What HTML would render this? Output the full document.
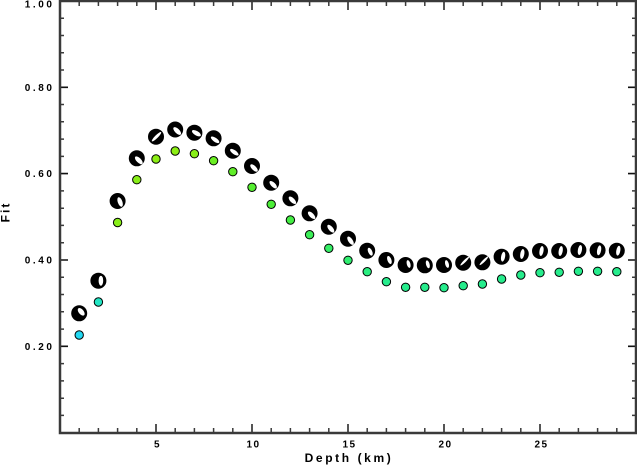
<!DOCTYPE html>
<html><head><meta charset="utf-8"><style>
html,body{margin:0;padding:0;background:#fff;}
svg{display:block;}
text{font-family:"Liberation Sans",Arial,sans-serif;font-weight:bold;fill:#000;}
</style></head><body>
<svg width="637" height="468" viewBox="0 0 637 468" xmlns="http://www.w3.org/2000/svg">
<rect x="0" y="0" width="637" height="468" fill="#fff"/>
<!-- minor ticks -->
<path stroke="#3a3a3a" stroke-width="1.5" fill="none" d="
M60 415.4h4M60 398.2h4M60 380.9h4M60 363.6h4M60 329.1h4M60 311.8h4M60 294.5h4M60 277.3h4M60 242.7h4M60 225.4h4M60 208.2h4M60 190.9h4M60 156.4h4M60 139.1h4M60 121.8h4M60 104.5h4M60 70h4M60 52.7h4M60 35.5h4M60 18.2h4
M636 415.4h-4M636 398.2h-4M636 380.9h-4M636 363.6h-4M636 329.1h-4M636 311.8h-4M636 294.5h-4M636 277.3h-4M636 242.7h-4M636 225.4h-4M636 208.2h-4M636 190.9h-4M636 156.4h-4M636 139.1h-4M636 121.8h-4M636 104.5h-4M636 70h-4M636 52.7h-4M636 35.5h-4M636 18.2h-4
M79.2 433v-5M98.4 433v-5M117.6 433v-5M136.8 433v-5M175.2 433v-5M194.4 433v-5M213.6 433v-5M232.8 433v-5M271.2 433v-5M290.4 433v-5M309.6 433v-5M328.8 433v-5M367.2 433v-5M386.4 433v-5M405.6 433v-5M424.8 433v-5M463.2 433v-5M482.4 433v-5M501.6 433v-5M520.8 433v-5M559.2 433v-5M578.4 433v-5M597.6 433v-5M616.8 433v-5
M79.2 1v5M98.4 1v5M117.6 1v5M136.8 1v5M175.2 1v5M194.4 1v5M213.6 1v5M232.8 1v5M271.2 1v5M290.4 1v5M309.6 1v5M328.8 1v5M367.2 1v5M386.4 1v5M405.6 1v5M424.8 1v5M463.2 1v5M482.4 1v5M501.6 1v5M520.8 1v5M559.2 1v5M578.4 1v5M597.6 1v5M616.8 1v5
"/>
<!-- major ticks -->
<path stroke="#111" stroke-width="1.6" fill="none" d="
M60 346.3h8M60 260h8M60 173.6h8M60 87.3h8
M636 346.3h-8M636 260h-8M636 173.6h-8M636 87.3h-8
"/>
<path stroke="#555" stroke-width="2" fill="none" d="
M156 433v-9M252 433v-9M348 433v-9M444 433v-9M540 433v-9
M156 1v9M252 1v9M348 1v9M444 1v9M540 1v9
"/>
<!-- frame -->
<rect x="60" y="1" width="576" height="432" fill="none" stroke="#3a3a3a" stroke-width="2.5"/>

<!-- y labels -->
<g font-size="10" letter-spacing="2.6" text-anchor="end">
<text x="54.6" y="7.5">1.00</text>
<text x="54.6" y="90.8">0.80</text>
<text x="54.6" y="177.1">0.60</text>
<text x="54.6" y="263.5">0.40</text>
<text x="54.6" y="349.8">0.20</text>
</g>
<!-- x labels -->
<g font-size="10" letter-spacing="1.5" text-anchor="middle">
<text x="157.5" y="447.5">5</text>
<text x="253.5" y="447.5">10</text>
<text x="349.5" y="447.5">15</text>
<text x="445.5" y="447.5">20</text>
<text x="541.5" y="447.5">25</text>
</g>
<text x="349" y="462" font-size="12" letter-spacing="2.6" text-anchor="middle">Depth (km)</text>
<text transform="translate(9.5,212) rotate(-90)" font-size="12" letter-spacing="2" text-anchor="middle">Fit</text>

<!-- colored dots -->
<g stroke="#000" stroke-width="1">
<circle cx="79.2" cy="335" r="4.2" fill="#22d8f2"/>
<circle cx="98.4" cy="302" r="4.2" fill="#22e6c4"/>
<circle cx="117.6" cy="222.5" r="4.2" fill="#88ee18"/>
<circle cx="136.8" cy="179.7" r="4.2" fill="#88ee18"/>
<circle cx="156" cy="159" r="4.2" fill="#8cee14"/>
<circle cx="175.2" cy="151" r="4.2" fill="#8cee14"/>
<circle cx="194.4" cy="153.7" r="4.2" fill="#88ee18"/>
<circle cx="213.6" cy="160.7" r="4.2" fill="#6aee22"/>
<circle cx="232.8" cy="171.7" r="4.2" fill="#60ee28"/>
<circle cx="252" cy="187.3" r="4.2" fill="#55ee30"/>
<circle cx="271.2" cy="204.3" r="4.2" fill="#4cee38"/>
<circle cx="290.4" cy="220" r="4.2" fill="#44ee44"/>
<circle cx="309.6" cy="234.7" r="4.2" fill="#3cee58"/>
<circle cx="328.8" cy="248.3" r="4.2" fill="#36ee66"/>
<circle cx="348" cy="260.3" r="4.2" fill="#30ee70"/>
<circle cx="367.2" cy="271.7" r="4.2" fill="#2aee80"/>
<circle cx="386.4" cy="281.7" r="4.2" fill="#26ec8c"/>
<circle cx="405.6" cy="287.3" r="4.2" fill="#26ec8c"/>
<circle cx="424.8" cy="287.3" r="4.2" fill="#26ec8c"/>
<circle cx="444" cy="287.7" r="4.2" fill="#26ec8c"/>
<circle cx="463.2" cy="285.7" r="4.2" fill="#26ec8c"/>
<circle cx="482.4" cy="284" r="4.2" fill="#26ec8c"/>
<circle cx="501.6" cy="279" r="4.2" fill="#26ec8c"/>
<circle cx="520.8" cy="275" r="4.2" fill="#26ec8c"/>
<circle cx="540" cy="272.7" r="4.2" fill="#26ec8c"/>
<circle cx="559.2" cy="272.3" r="4.2" fill="#26ec8c"/>
<circle cx="578.4" cy="271.3" r="4.2" fill="#26ec8c"/>
<circle cx="597.6" cy="271.3" r="4.2" fill="#26ec8c"/>
<circle cx="616.8" cy="271.7" r="4.2" fill="#26ec8c"/>
</g>

<!-- beachballs -->
<g>
<g transform="translate(79.2,313.3)"><circle r="8" fill="#000"/><ellipse cx="2" cy="-1.5" rx="2.5" ry="4.5" transform="rotate(-40 2 -1.5)" fill="#fff"/></g>
<g transform="translate(98.4,280.7)"><circle r="8" fill="#000"/><ellipse cx="2.5" cy="0" rx="2.3" ry="5" fill="#fff"/></g>
<g transform="translate(117.6,201)"><circle r="8" fill="#000"/><ellipse cx="2.5" cy="1" rx="2.3" ry="5" transform="rotate(-20 2.5 1)" fill="#fff"/></g>
<g transform="translate(136.8,158.3)"><circle r="8" fill="#000"/><ellipse cx="2" cy="2" rx="2.3" ry="5" transform="rotate(-45 2 2)" fill="#fff"/></g>
<g transform="translate(156,136.7)"><circle r="8" fill="#000"/><ellipse cx="0.5" cy="0" rx="1.5" ry="6.5" transform="rotate(45 0.5 0)" fill="#fff"/></g>
<g transform="translate(175.2,129.5)"><circle r="8" fill="#000"/><ellipse cx="2" cy="1.5" rx="2.3" ry="5" transform="rotate(-45 2 1.5)" fill="#fff"/></g>
<g transform="translate(194.4,132.7)"><circle r="8" fill="#000"/><ellipse cx="2" cy="0.5" rx="2.2" ry="5" transform="rotate(-60 2 0.5)" fill="#fff"/></g>
<g transform="translate(213.6,138.3)"><circle r="8" fill="#000"/><ellipse cx="1.5" cy="1.5" rx="2" ry="5" transform="rotate(-55 1.5 1.5)" fill="#fff"/></g>
<g transform="translate(232.8,150.7)"><circle r="8" fill="#000"/><ellipse cx="1.5" cy="1.5" rx="2" ry="5" transform="rotate(-55 1.5 1.5)" fill="#fff"/></g>
<g transform="translate(252,166)"><circle r="8" fill="#000"/><ellipse cx="2" cy="2" rx="2.2" ry="4.8" transform="rotate(-45 2 2)" fill="#fff"/></g>
<g transform="translate(271.2,182.7)"><circle r="8" fill="#000"/><ellipse cx="2" cy="2" rx="2.2" ry="4.8" transform="rotate(-45 2 2)" fill="#fff"/></g>
<g transform="translate(290.4,198.3)"><circle r="8" fill="#000"/><ellipse cx="2" cy="2" rx="2.2" ry="4.8" transform="rotate(-45 2 2)" fill="#fff"/></g>
<g transform="translate(309.6,213.3)"><circle r="8" fill="#000"/><ellipse cx="2" cy="2" rx="2.2" ry="4.8" transform="rotate(-45 2 2)" fill="#fff"/></g>
<g transform="translate(328.8,226.7)"><circle r="8" fill="#000"/><ellipse cx="2" cy="2" rx="2.2" ry="4.8" transform="rotate(-40 2 2)" fill="#fff"/></g>
<g transform="translate(348,238.7)"><circle r="8" fill="#000"/><ellipse cx="2.5" cy="2" rx="2.2" ry="4.8" transform="rotate(-35 2.5 2)" fill="#fff"/></g>
<g transform="translate(367.2,250.7)"><circle r="8" fill="#000"/><ellipse cx="3" cy="1" rx="2" ry="4.2" transform="rotate(-25 3 1)" fill="#fff"/></g>
<g transform="translate(386.4,260)"><circle r="8" fill="#000"/><ellipse cx="3" cy="0" rx="2" ry="4.2" transform="rotate(-20 3 0)" fill="#fff"/></g>
<g transform="translate(405.6,265)"><circle r="8" fill="#000"/><ellipse cx="3" cy="-1" rx="1.8" ry="4" transform="rotate(-15 3 -1)" fill="#fff"/></g>
<g transform="translate(424.8,265.3)"><circle r="8" fill="#000"/><ellipse cx="3" cy="-1" rx="1.8" ry="4" transform="rotate(-15 3 -1)" fill="#fff"/></g>
<g transform="translate(444,265)"><circle r="8" fill="#000"/><ellipse cx="3" cy="-1" rx="1.8" ry="4" transform="rotate(-15 3 -1)" fill="#fff"/></g>
<g transform="translate(463.2,262.7)"><circle r="8" fill="#000"/><ellipse cx="1.5" cy="-1.5" rx="1.2" ry="6" transform="rotate(45 1.5 -1.5)" fill="#fff"/></g>
<g transform="translate(482.4,262.3)"><circle r="8" fill="#000"/><ellipse cx="1.5" cy="-1.5" rx="1.2" ry="6" transform="rotate(45 1.5 -1.5)" fill="#fff"/></g>
<g transform="translate(501.6,256.7)"><circle r="8" fill="#000"/><ellipse cx="1.5" cy="0" rx="2" ry="5" transform="rotate(10 1.5 0)" fill="#fff"/></g>
<g transform="translate(520.8,254)"><circle r="8" fill="#000"/><ellipse cx="1.5" cy="0" rx="2" ry="5" transform="rotate(10 1.5 0)" fill="#fff"/></g>
<g transform="translate(540,251)"><circle r="8" fill="#000"/><ellipse cx="1.5" cy="0" rx="2" ry="5" transform="rotate(10 1.5 0)" fill="#fff"/></g>
<g transform="translate(559.2,251)"><circle r="8" fill="#000"/><ellipse cx="1.5" cy="0" rx="2" ry="5" transform="rotate(10 1.5 0)" fill="#fff"/></g>
<g transform="translate(578.4,250)"><circle r="8" fill="#000"/><ellipse cx="1.5" cy="0" rx="2" ry="5" transform="rotate(10 1.5 0)" fill="#fff"/></g>
<g transform="translate(597.6,250.3)"><circle r="8" fill="#000"/><ellipse cx="1.5" cy="0" rx="2" ry="5" transform="rotate(10 1.5 0)" fill="#fff"/></g>
<g transform="translate(616.8,250.7)"><circle r="8" fill="#000"/><ellipse cx="1.5" cy="0" rx="2" ry="5" transform="rotate(10 1.5 0)" fill="#fff"/></g>
</g>
</svg>
</body></html>
